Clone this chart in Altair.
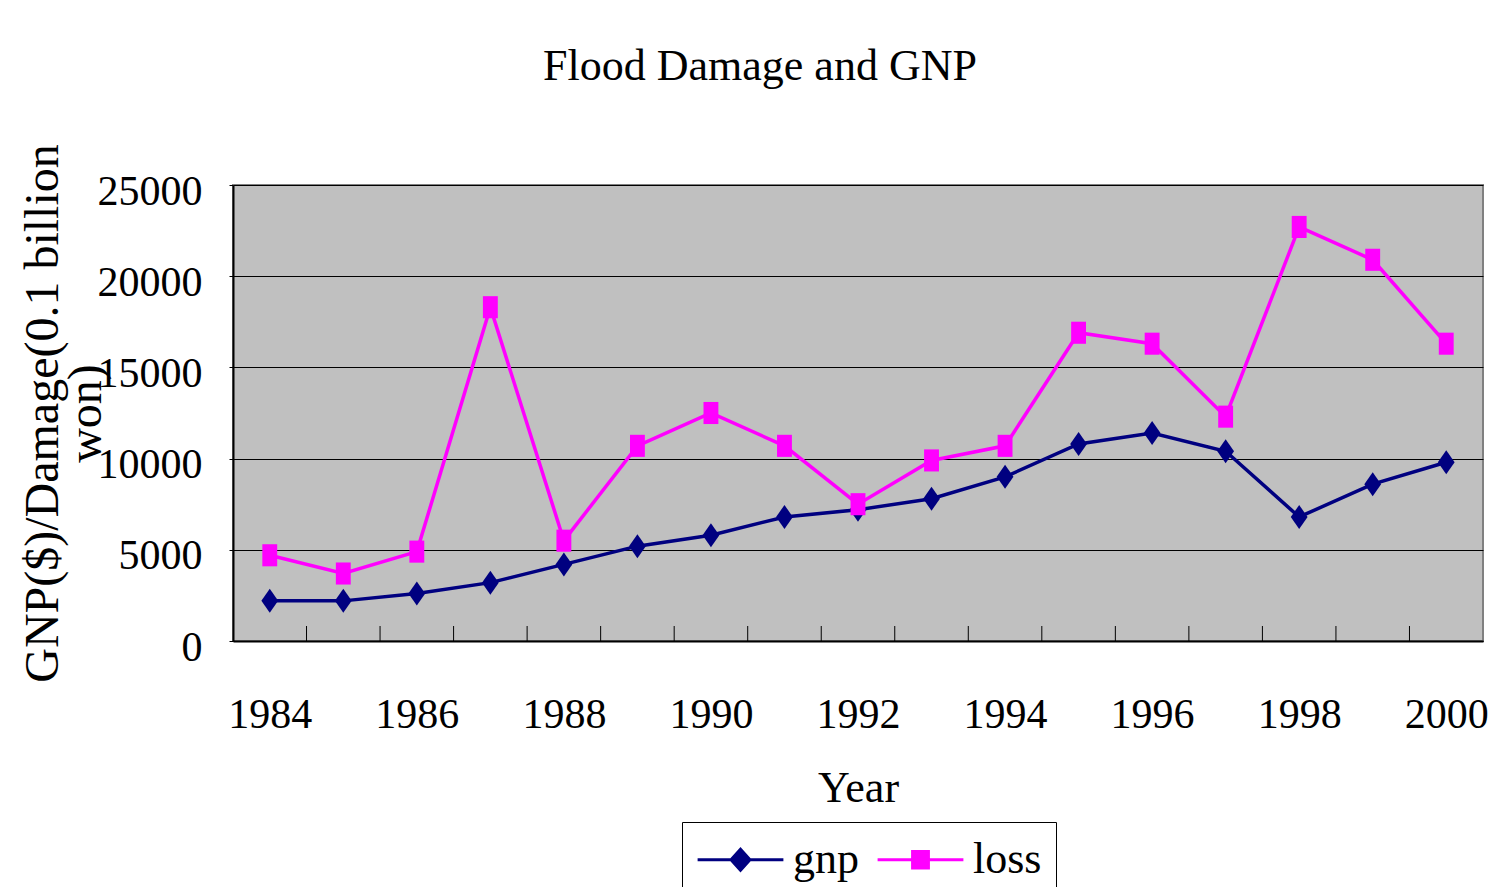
import altair as alt
import pandas as pd

# ---- data ----
years = list(range(1984, 2001))
gnp = [2200, 2200, 2600, 3200, 4200, 5200, 5800, 6800, 7200, 7800, 9000,
       10800, 11400, 10400, 6800, 8600, 9800]
loss = [4700, 3700, 4900, 18300, 5500, 10700, 12500, 10700, 7500, 9900, 10700,
        16900, 16300, 12300, 22700, 20900, 16300]
series_names = ["gnp", "loss"]
series_colors = ["#000080", "#FF00FF"]
y_ticks = [0, 5000, 10000, 15000, 20000, 25000]
x_labels = [1984, 1986, 1988, 1990, 1992, 1994, 1996, 1998, 2000]
title_text = "Flood Damage and GNP"
y_title = ["GNP($)/Damage(0.1 billion", "won)"]
x_title = "Year"

df = pd.DataFrame({
    "year": years * 2,
    "value": gnp + loss,
    "series": ["gnp"] * len(years) + ["loss"] * len(years),
})
yrs = pd.DataFrame({"year": years})

FONT = "Liberation Serif"
W, H = 1250, 456

# marker shapes (custom paths)
marker_paths = ["M0,-1L0.7,0L0,1L-0.7,0Z", "M-0.62,-0.92L0.62,-0.92L0.62,0.92L-0.62,0.92Z"]
# legend symbols: line segment + marker
legend_paths = [
    "M-1.95,0L1.95,0M0,-0.48L0.43,0L0,0.48L-0.43,0Z",
    "M-1.95,0L1.95,0M-0.36,-0.38L0.36,-0.38L0.36,0.38L-0.36,0.38Z",
]

x_scale = alt.Scale(domain=[1983.5, 2000.5], nice=False, zero=False)
y_scale = alt.Scale(domain=[0, 25000], nice=False)

x_axis = alt.Axis(
    values=x_labels, format="d", ticks=False, tickSize=0, grid=False,
    labelFont=FONT, labelFontSize=42, labelColor="black", labelPadding=53,
    labelFlush=False, labelOverlap=False,
    domainColor="black", domainWidth=2,
    title=x_title, titleFont=FONT, titleFontSize=44, titleFontWeight="normal",
    titleColor="black", titleY=160, titleBaseline="alphabetic",
)
y_axis = alt.Axis(
    values=y_ticks, format="d", grid=True, gridColor="black", gridWidth=1,
    tickSize=4, tickColor="black", domainColor="black", domainWidth=2,
    labelFont=FONT, labelFontSize=42, labelColor="black", labelPadding=27,
    labelOffset=6, labelFlush=False, labelOverlap=False,
    title=y_title, titleFont=FONT, titleFontSize=48, titleFontWeight="normal",
    titleColor="black", titleAngle=270, titleX=-176, titleY=228,
    titleBaseline="alphabetic", titleAlign="center", titleLineHeight=43,
)

x_enc = alt.X("year:Q", scale=x_scale, axis=x_axis)
y_enc = alt.Y("value:Q", scale=y_scale, axis=y_axis)

base = alt.Chart(df)

# inside tick marks between categories
ticks = alt.Chart(yrs).transform_calculate(
    tick_x="datum.year + 0.5"
).transform_filter("datum.tick_x < 2000.5").mark_rule(
    color="black", strokeWidth=1
).encode(
    x=alt.X("tick_x:Q", scale=x_scale, axis=x_axis),
    y=alt.value(H),
    y2=alt.value(H - 15),
)

layers = [ticks]
for name, col in zip(series_names, series_colors):
    sub = base.transform_filter(alt.datum.series == name)
    layers.append(sub.mark_line(strokeWidth=3.5, color=col).encode(x=x_enc, y=y_enc))
for name, col, path in zip(series_names, series_colors, marker_paths):
    sub = base.transform_filter(alt.datum.series == name)
    layers.append(
        sub.mark_point(filled=True, opacity=1, strokeWidth=0, size=576,
                       shape=path, color=col).encode(x=x_enc, y=y_enc)
    )

leg = alt.Legend(
    title=None, orient="none", legendX=449, legendY=637, direction="horizontal",
    symbolSize=1936, symbolOffset=21, symbolStrokeWidth=3,
    symbolFillColor="#000080", labelOffset=29,
    labelFont=FONT, labelFontSize=44, labelColor="black",
    padding=14, strokeColor="black", fillColor="white",
    columnPadding=12, cornerRadius=0,
)

# legend-only layer: its own marks are placed outside the view and clipped
legend_layer = base.mark_point(
    filled=True, opacity=1, strokeWidth=3, clip=True
).encode(
    x=alt.value(-600), y=alt.value(-600),
    fill=alt.Fill("series:N", scale=alt.Scale(domain=series_names, range=series_colors), legend=leg),
    stroke=alt.Stroke("series:N", scale=alt.Scale(domain=series_names, range=series_colors), legend=leg),
    shape=alt.Shape("series:N", scale=alt.Scale(domain=series_names, range=legend_paths), legend=leg),
)
layers.append(legend_layer)

chart = alt.layer(*layers).properties(
    width=W, height=H,
    title=alt.Title(
        title_text, font=FONT, fontSize=44, fontWeight="normal", color="black",
        anchor="middle", dx=-98, offset=20, baseline="alphabetic",
    ),
    padding={"left": 225, "top": 177, "right": 10, "bottom": 246},
    autosize=alt.AutoSizeParams(type="none"),
    background="white",
).configure_view(
    fill="#C0C0C0", stroke="#808080", strokeWidth=2,
)

chart.save("out.html", embed_options={"renderer": "svg", "actions": False})
